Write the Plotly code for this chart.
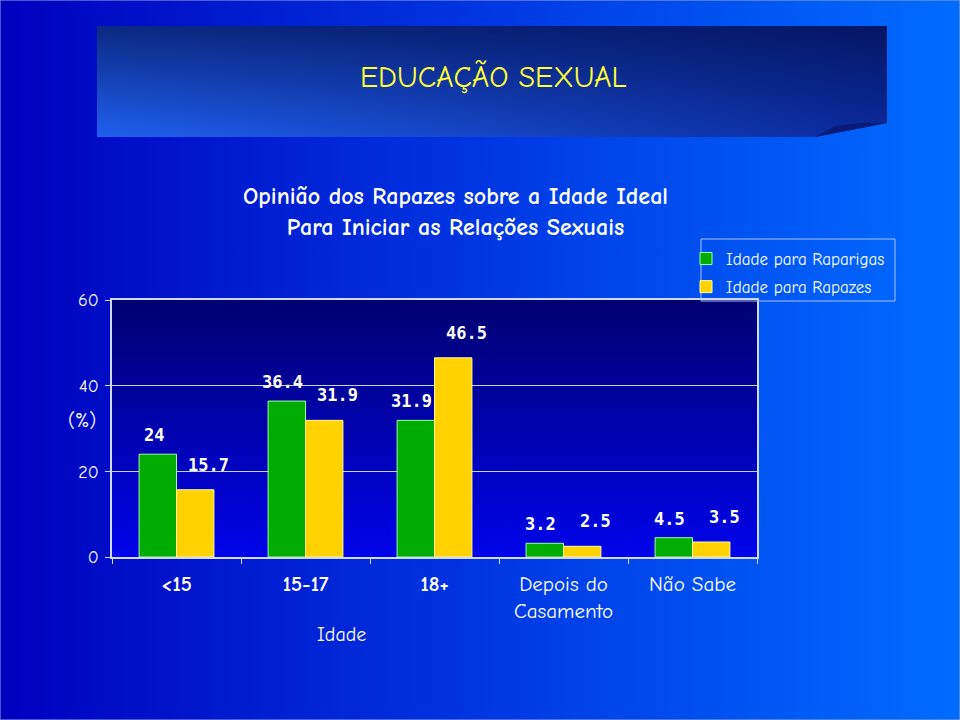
import plotly.graph_objects as go

# ---- data ----
categories = ["<15", "15-17", "18+", "Depois do<br>Casamento", "Não Sabe"]
bold_ticks = [True, True, True, False, False]
raparigas = [24, 36.4, 31.9, 3.2, 4.5]
rapazes = [15.7, 31.9, 46.5, 2.5, 3.5]
series_names = ["Idade para Raparigas", "Idade para Rapazes"]
y_ticks = [0, 20, 40, 60]

FONT = "Comic Sans MS, Comic Neue, Open Sans, sans-serif"
NUMFONT = "DejaVu Sans Mono, monospace"
W, H = 960, 720
# plot area in pixels
PL, PR, PT, PB = 112, 757, 300, 557

fig = go.Figure()

# ---- decorative backgrounds (pixel axes x/y) ----
def bg_poly(xs, ys, scale, orient):
    fig.add_trace(go.Scatter(
        x=xs, y=ys, mode="lines", fill="toself", line=dict(width=0),
        fillgradient=dict(type=orient, colorscale=scale),
        hoverinfo="skip", showlegend=False, xaxis="x", yaxis="y"))

# page background
bg_poly([0, W, W, 0, 0], [0, 0, H, H, 0],
        [[0, "#0000bf"], [0.5, "#0036e2"], [1, "#006cff"]], "horizontal")
# title box
box_x = [97, 887, 887, 815, 97, 97]
box_y = [26, 26, 123, 137, 137, 26]
bg_poly(box_x, box_y, [[0, "#1f60f0"], [1, "#0b2a9c"]], "horizontal")
bg_poly(box_x, box_y, [[0, "rgba(0,10,70,0.0)"], [1, "rgba(0,10,70,0.65)"]], "vertical")
# page curl
bg_poly([815, 835, 860, 887, 815], [137, 126, 123, 123, 137],
        [[0, "#0a1a78"], [1, "#0a1a78"]], "horizontal")
# plot area
bg_poly([PL, PR, PR, PL, PL], [PT, PT, PB, PB, PT],
        [[0, "#0004ea"], [1, "#000070"]], "vertical")

# ---- bars ----
fig.add_trace(go.Bar(
    x=categories, y=raparigas, name=series_names[0],
    marker=dict(color="#00ac00", line=dict(color="#9dff9d", width=1)),
    xaxis="x2", yaxis="y2", legendgroup="a"))
fig.add_trace(go.Bar(
    x=categories, y=rapazes, name=series_names[1],
    marker=dict(color="#ffd200", line=dict(color="#ffff99", width=1)),
    xaxis="x2", yaxis="y2", legendgroup="b"))

# value labels
bar_px = (PR - PL) / len(categories) * 0.58 / 2
for c, v in zip(categories, raparigas):
    fig.add_annotation(x=c, y=v, xref="x2", yref="y2", text=f"<b>{v:g}</b>",
                       showarrow=False, xshift=-bar_px / 2 - 4, yshift=19,
                       font=dict(family=NUMFONT, size=17, color="white"))
for c, v in zip(categories, rapazes):
    fig.add_annotation(x=c, y=v, xref="x2", yref="y2", text=f"<b>{v:g}</b>",
                       showarrow=False, xshift=bar_px / 2 + 13, yshift=25,
                       font=dict(family=NUMFONT, size=17, color="white"))

# titles
def note(x, y, text, size, color="white"):
    fig.add_annotation(x=x / W, y=1 - y / H, xref="paper", yref="paper",
                       xanchor="center", yanchor="middle", text=text,
                       showarrow=False,
                       font=dict(family=FONT, size=size, color=color))

note(493, 77, "EDUCAÇÃO SEXUAL", 30, "#ffff33")
note(455, 211, "<b>Opinião dos Rapazes sobre a Idade Ideal<br>Para Iniciar as Relações Sexuais</b>", 24)
note(341, 634, "Idade", 20)
note(82, 420, "(%)", 20)

# legend border
fig.add_shape(type="rect", xref="paper", yref="paper",
              x0=701 / W, x1=895 / W, y0=1 - 301 / H, y1=1 - 239 / H,
              line=dict(color="#a8c0ff", width=1), fillcolor="rgba(0,0,0,0)")
# thin page frame
fig.add_shape(type="rect", xref="paper", yref="paper", x0=0, x1=1, y0=0, y1=1,
              line=dict(color="#9aa8d8", width=1), fillcolor="rgba(0,0,0,0)")

tick_text = [f"<b>{c}</b>" if b else c for c, b in zip(categories, bold_ticks)]

fig.update_layout(
    width=W, height=H,
    margin=dict(l=0, r=0, t=0, b=0, pad=0, autoexpand=False),
    paper_bgcolor="#0036e2",
    plot_bgcolor="rgba(0,0,0,0)",
    barmode="group", bargap=0.42, bargroupgap=0,
    font=dict(family=FONT, color="white"),
    xaxis=dict(domain=[0, 1], range=[0, W], visible=False, fixedrange=True,
               automargin=False),
    yaxis=dict(domain=[0, 1], range=[H, 0], visible=False, fixedrange=True,
               automargin=False),
    xaxis2=dict(domain=[PL / W, PR / W], anchor="y2", type="category",
                tickvals=categories, ticktext=tick_text, automargin=False,
                showline=True, linecolor="#d0d8ff", linewidth=1.5, mirror=True,
                ticks="outside", tickson="boundaries", ticklen=5,
                tickcolor="#d0d8ff", ticklabelstandoff=7,
                tickfont=dict(family=FONT, size=21, color="white"),
                showgrid=False),
    yaxis2=dict(domain=[1 - PB / H, 1 - PT / H], anchor="x2", range=[0, 60],
                tickvals=y_ticks, showline=True, linecolor="#d0d8ff",
                linewidth=1.5, mirror=True, ticks="outside", ticklen=5,
                tickcolor="#d0d8ff", showgrid=True, gridcolor="#c8d0f0",
                gridwidth=1, zeroline=False, automargin=False,
                ticklabelstandoff=3,
                tickfont=dict(family=FONT, size=18, color="white")),
    legend=dict(x=686 / W, y=1 - 241 / H, xanchor="left", yanchor="top",
                bgcolor="rgba(0,0,0,0)", borderwidth=0,
                font=dict(family=FONT, size=17, color="white"),
                itemwidth=30, tracegroupgap=3, traceorder="grouped"),
    showlegend=True,
)

fig.write_html("out.html", config={"displayModeBar": False},
               post_script="document.body.style.margin='0';")
